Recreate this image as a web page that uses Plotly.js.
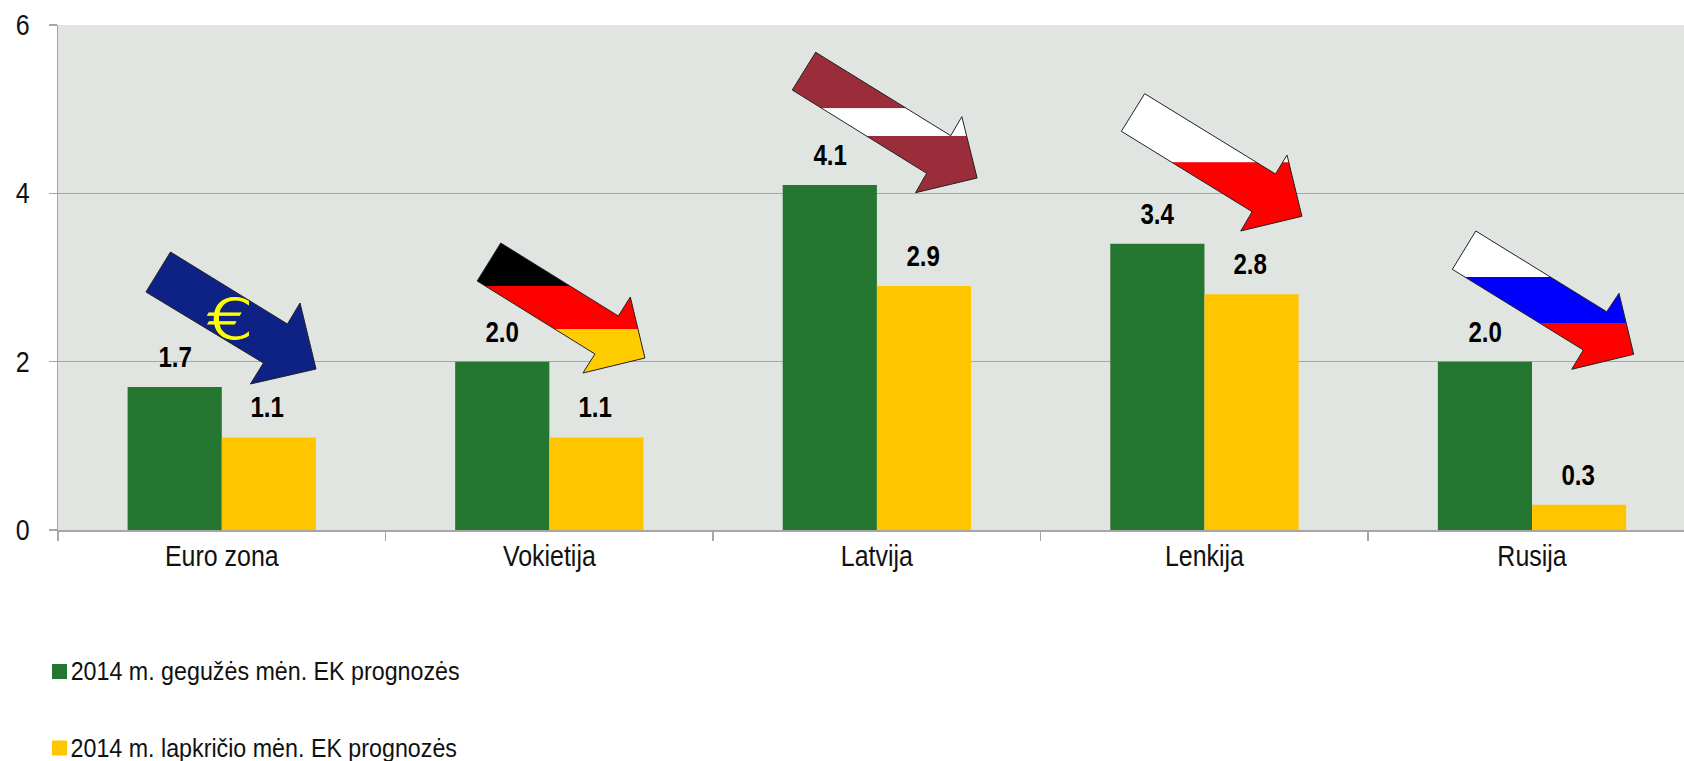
<!DOCTYPE html>
<html>
<head>
<meta charset="utf-8">
<script src="https://cdn.plot.ly/plotly-3.0.1.min.js"></script>
<style>html,body{margin:0;padding:0;background:#fff;overflow:hidden}</style>
</head>
<body>
<div id="chart" style="width:1684px;height:761px"></div>
<script>
const categories = ["Euro zona", "Vokietija", "Latvija", "Lenkija", "Rusija"];
const mayForecast = [1.7, 2.0, 4.1, 3.4, 2.0];
const novForecast = [1.1, 1.1, 2.9, 2.8, 0.3];
const mayName = "2014 m. gegužės mėn. EK prognozės";
const novName = "2014 m. lapkričio mėn. EK prognozės";
const yTicks = [0, 2, 4, 6];
const GREEN = "#257630", YELLOW = "#FFC600";
const FONT = '"Liberation Sans",Arial,sans-serif';
const W = 1684, H = 761;
const M = {l: 57.5, r: 0, t: 25, b: 231};
const barPx = 94.2;

// decorative flag arrows, page pixels
const euroArrow = [[170,252],[145.5,292],[263,363],[250,384],[315.6,369],[299.6,303],[287,324]];
const germanArrow = [[500.4,243],[476.8,281],[594.6,354],[582.6,373],[644.6,358],[630,297],[618,316]];
const latviaArrow = [[815.4,52.3],[792,90],[926.4,173.3],[915.3,192.7],[976.9,178],[961.6,116.7],[950.5,135.7]];
const polandArrow = [[1144.5,93.7],[1121.2,131.3],[1252,211.7],[1240.6,231],[1301.8,216.3],[1286.9,155],[1275.4,174]];
const russiaArrow = [[1475.7,231],[1452.3,269.3],[1583.3,350],[1571.7,369.3],[1633.7,354.3],[1619,293.3],[1606.7,311.7]];
const arrows = [
  {pts: euroArrow, bands: [[1000, "#0E2184"]]},
  {pts: germanArrow, bands: [[286, "#000000"], [329, "#FF0000"], [1000, "#FFCC00"]]},
  {pts: latviaArrow, bands: [[108.3, "#9B2D3A"], [136, "#FFFFFF"], [1000, "#9B2D3A"]]},
  {pts: polandArrow, bands: [[162.3, "#FFFFFF"], [1000, "#FF0000"]]},
  {pts: russiaArrow, bands: [[277, "#FFFFFF"], [323, "#0000FF"], [1000, "#FF0000"]]}
];

// paper coordinates are relative to the plot area
const px = x => (x - M.l) / (W - M.l - M.r);
const py = y => 1 - (y - M.t) / (H - M.t - M.b);
function clip(pts, yLim, keepAbove) {
  const inside = p => keepAbove ? p[1] <= yLim : p[1] >= yLim;
  const out = [];
  pts.forEach((p, i) => {
    const q = pts[(i + 1) % pts.length];
    if (inside(p)) out.push(p);
    if (inside(p) !== inside(q)) {
      const t = (yLim - p[1]) / (q[1] - p[1]);
      out.push([p[0] + t * (q[0] - p[0]), yLim]);
    }
  });
  return out;
}
const toPath = pts => "M" + pts.map(p => px(p[0]).toFixed(5) + "," + py(p[1]).toFixed(5)).join("L") + "Z";
const shapes = [];
arrows.forEach(a => {
  let top = -1000;
  a.bands.forEach(([bottom, color]) => {
    const piece = clip(clip(a.pts, top, false), bottom, true);
    if (piece.length > 2) shapes.push({type: "path", xref: "paper", yref: "paper", path: toPath(piece),
      fillcolor: color, line: {width: 0}, layer: "above"});
    top = bottom;
  });
  shapes.push({type: "path", xref: "paper", yref: "paper", path: toPath(a.pts),
    fillcolor: "rgba(0,0,0,0)", line: {color: "#222222", width: 1}, layer: "above"});
});

// legend swatches
const legendRows = [[mayName, GREEN, 671.5], [novName, YELLOW, 748]];
const annotations = [];
legendRows.forEach(([name, color, y]) => {
  shapes.push({type: "rect", xref: "paper", yref: "paper", x0: px(51.5), x1: px(66.5), y0: py(y - 7.5), y1: py(y + 7.5),
    fillcolor: color, line: {width: 0}});
  annotations.push({xref: "paper", yref: "paper", x: px(53.5), y: py(y - 0.5), xanchor: "left", yanchor: "middle",
    showarrow: false, text: name, font: {family: FONT, size: 25, color: "#111111"}});
});

// value labels
[[mayForecast, -barPx / 2], [novForecast, barPx / 2 - 1.5]].forEach(([vals, dx]) => {
  vals.forEach((v, i) => annotations.push({xref: "x", yref: "y", x: categories[i], y: v, xshift: dx, yshift: 30,
    xanchor: "center", yanchor: "middle", showarrow: false, text: "<b>" + v.toFixed(1) + "</b>",
    font: {family: FONT, size: 29, color: "#000000"}}));
});

// euro sign on the first arrow
annotations.push({xref: "paper", yref: "paper", x: px(229.5), y: py(318.5), xanchor: "center", yanchor: "middle",
  showarrow: false, text: "€", font: {family: '"DejaVu Sans",sans-serif', size: 55, weight: 200, color: "#FFFF00"}});

const traces = [
  {type: "bar", name: mayName, x: categories, y: mayForecast, marker: {color: GREEN}},
  {type: "bar", name: novName, x: categories, y: novForecast, marker: {color: YELLOW}}
];
const layout = {
  width: W, height: H, margin: M, showlegend: false, barmode: "group",
  bargap: 1 - 2 * barPx / 327.65, bargroupgap: 0,
  paper_bgcolor: "#FFFFFF", plot_bgcolor: "#E0E5E2",
  font: {family: FONT, color: "#111111"},
  xaxis: {type: "category", categoryorder: "array", categoryarray: categories, range: [-0.5, 4.464],
    tickson: "boundaries", ticks: "outside", ticklen: 9, tickcolor: "#A6A6A6", tickwidth: 1.5,
    showline: true, linecolor: "#A6A6A6", linewidth: 1.5, showgrid: false, zeroline: false,
    tickfont: {family: FONT, size: 29, color: "#111111"}, automargin: false},
  yaxis: {range: [0, 6], tickmode: "array", tickvals: yTicks, ticktext: yTicks.map(String),
    ticks: "outside", ticklen: 8, tickcolor: "#A6A6A6", tickwidth: 1.5, ticklabelstandoff: 13,
    showline: true, linecolor: "#A6A6A6", linewidth: 1.5, showgrid: true, gridcolor: "#A6A6A6", gridwidth: 1.5,
    zeroline: false, tickfont: {family: FONT, size: 29, color: "#111111"}, automargin: false},
  shapes, annotations
};

// the reference's lettering is horizontally condensed
function condense() {
  const gd = document.getElementById("chart");
  const squeeze = (el, f) => {
    const len = el.getComputedTextLength();
    el.setAttribute("textLength", (len * f).toFixed(1));
    el.setAttribute("lengthAdjust", "spacingAndGlyphs");
  };
  gd.querySelectorAll(".xtick text").forEach(t => squeeze(t, 0.86));
  gd.querySelectorAll(".ytick text").forEach(t => squeeze(t, 0.86));
  gd.querySelectorAll(".annotation text").forEach(t => {
    const s = t.textContent;
    if (s === mayName || s === novName) squeeze(t, 0.93);
    else if (s === "€") {
      squeeze(t, 1.35);
      t.style.stroke = "#FFFF00";
      t.style.strokeWidth = "1px";
    } else squeeze(t, 0.83);
  });
}
Plotly.newPlot("chart", traces, layout, {displayModeBar: false, staticPlot: true}).then(condense);
</script>
</body>
</html>
